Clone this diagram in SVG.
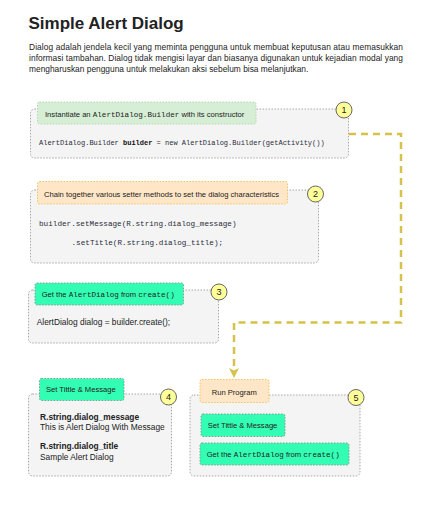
<svg xmlns="http://www.w3.org/2000/svg" width="423" height="506" viewBox="0 0 423 506">
<defs>
<style>
.t{font-family:"Liberation Sans",Arial,sans-serif;fill:#222}
.m{font-family:"Liberation Mono","Courier New",monospace}
.box{fill:#f4f4f4;stroke:#a8a8a8;stroke-width:1;stroke-dasharray:1.5 1.5}
.lg{fill:#d6eed5;stroke:#b0d9ad;stroke-width:1;stroke-dasharray:1.5 1.5}
.lo{fill:#ffe6c6;stroke:#f2c462;stroke-width:1;stroke-dasharray:1.5 1.5}
.lb{fill:#33ffb4;stroke:#8a9a94;stroke-width:1;stroke-dasharray:1.5 1.5}
.c{fill:#ffff99;stroke:#666;stroke-width:1}
.n{font-family:"Liberation Sans",Arial,sans-serif;font-size:9px;fill:#222;text-anchor:middle}
.lab{font-size:7.6px}
.code{font-family:"Liberation Mono","Courier New",monospace;fill:#2b2b3a}
.conn{fill:none;stroke:#d6c24a;stroke-width:2.5;stroke-dasharray:7 5}
.ah{fill:#d6c24a}
</style>
</defs>
<rect width="423" height="506" fill="#fff"/>
<text class="t" x="28.5" y="29" font-size="17" font-weight="bold" fill="#111">Simple Alert Dialog</text>
<g class="t" font-size="8.4">
<text x="29" y="50" textLength="374" lengthAdjust="spacing">Dialog adalah jendela kecil yang meminta pengguna untuk membuat keputusan atau memasukkan</text>
<text x="29" y="60.8" textLength="374" lengthAdjust="spacing">informasi tambahan. Dialog tidak mengisi layar dan biasanya digunakan untuk kejadian modal yang</text>
<text x="29" y="71.5">mengharuskan pengguna untuk melakukan aksi sebelum bisa melanjutkan.</text>
</g>
<g id="connectors">
<path class="conn" d="M349,134 H401 V322.5 H234 V369"/>
<path class="ah" d="M229,368 L234,370.5 L239,368 L234,378 Z"/>
</g>
<g id="node1">
<rect class="box" x="30.5" y="109" width="318" height="49" rx="4"/>
<rect class="lg" x="37.5" y="102" width="218.5" height="22" rx="2"/>
<text class="t lab" x="45" y="116.5" fill="#333">Instantiate an <tspan class="m">AlertDialog.Builder</tspan> with its constructor</text>
<text class="code" x="39" y="145" font-size="7">AlertDialog.Builder <tspan font-weight="bold" fill="#111">builder</tspan> = new AlertDialog.Builder(getActivity())</text>
<circle class="c" cx="344" cy="110" r="8"/>
<text class="n" x="344" y="113.2">1</text>
</g>
<g id="node2">
<rect class="box" x="30.5" y="190" width="288" height="73" rx="4"/>
<rect class="lo" x="37.5" y="181.5" width="250" height="22.5" rx="2"/>
<text class="t lab" x="44" y="196.5" fill="#333">Chain together various setter methods to set the dialog characteristics</text>
<text class="code" x="39" y="225.5" font-size="7.66">builder.setMessage(R.string.dialog_message)</text>
<text class="code" x="71.5" y="244.5" font-size="7.66">.setTitle(R.string.dialog_title);</text>
<circle class="c" cx="315.5" cy="194" r="8"/>
<text class="n" x="315.5" y="197.2">2</text>
</g>
<g id="node3">
<rect class="box" x="28.5" y="290" width="190" height="53" rx="4"/>
<rect class="lb" x="35" y="283" width="148.5" height="22" rx="2"/>
<text class="t lab" x="41.7" y="296.5" fill="#1d2a24">Get the <tspan class="m">AlertDialog</tspan> from <tspan class="m">create()</tspan></text>
<text class="t" x="36.7" y="325" font-size="8.4">AlertDialog dialog = builder.create();</text>
<circle class="c" cx="219" cy="292" r="8"/>
<text class="n" x="219" y="295.2">3</text>
</g>
<g id="node4">
<rect class="box" x="28.5" y="394" width="143" height="82" rx="4"/>
<rect class="lb" x="39.5" y="378.5" width="84.5" height="22" rx="2"/>
<text class="t lab" x="46" y="392" fill="#1d2a24">Set Tittle &amp; Message</text>
<text class="t" x="40" y="419.5" font-size="8.4" font-weight="bold">R.string.dialog_message</text>
<text class="t" x="40" y="430" font-size="8.4">This is Alert Dialog With Message</text>
<text class="t" x="40" y="449" font-size="8.4" font-weight="bold">R.string.dialog_title</text>
<text class="t" x="40" y="459.5" font-size="8.4">Sample Alert Dialog</text>
<circle class="c" cx="168.5" cy="397" r="8"/>
<text class="n" x="168.5" y="400.2">4</text>
</g>
<g id="node5">
<rect class="box" x="190" y="395" width="170" height="81" rx="4"/>
<rect class="lo" x="200" y="379.5" width="69" height="23" rx="2"/>
<text class="t lab" x="211.7" y="394.5" fill="#333">Run Program</text>
<rect class="lb" x="201" y="414" width="84" height="22.5" rx="2"/>
<text class="t lab" x="207.7" y="428.2" fill="#1d2a24">Set Tittle &amp; Message</text>
<rect class="lb" x="200" y="443" width="149" height="22" rx="2"/>
<text class="t lab" x="206.7" y="456.8" fill="#1d2a24">Get the <tspan class="m">AlertDialog</tspan> from <tspan class="m">create()</tspan></text>
<circle class="c" cx="356" cy="397.5" r="8"/>
<text class="n" x="356" y="400.7">5</text>
</g>
</svg>
